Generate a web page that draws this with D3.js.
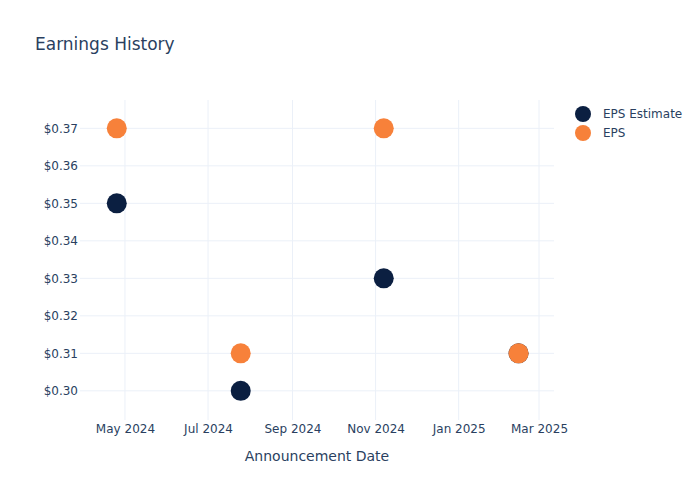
<!DOCTYPE html>
<html>
<head>
<meta charset="utf-8">
<script src="https://cdn.jsdelivr.net/npm/d3@7"></script>
<style>
  body { margin: 0; background: #fff; }
  text { font-family: "DejaVu Sans", Verdana, sans-serif; fill: #2a3f5f; }
</style>
</head>
<body>
<div id="chart"></div>
<script>
var dates = ["2024-04-25", "2024-07-25", "2024-11-07", "2025-02-14"];
var epsEstimate = [0.35, 0.30, 0.33, 0.31];
var epsActual = [0.37, 0.31, 0.37, 0.31];
var yTicks = [0.30, 0.31, 0.32, 0.33, 0.34, 0.35, 0.36, 0.37];
var xTicks = ["2024-05-01", "2024-07-01", "2024-09-01", "2024-11-01", "2025-01-01", "2025-03-01"];
var seriesNames = ["EPS Estimate", "EPS"];
var seriesColors = ["#0b1f41", "#f7813a"];

var width = 700, height = 500;
var margin = { top: 100, right: 146, bottom: 80, left: 80 };

var parse = d3.timeParse("%Y-%m-%d");

var svg = d3.select("#chart")
  .append("svg")
    .attr("width", width)
    .attr("height", height);

var x = d3.scaleTime()
    .domain([parse("2024-03-29"), parse("2025-03-12")])
    .range([margin.left, width - margin.right]);

var y = d3.scaleLinear()
    .domain([0.29222, 0.37755])
    .range([height - margin.bottom, margin.top]);

// grid
svg.append("g")
  .selectAll("line")
  .data(xTicks)
  .enter().append("line")
    .attr("x1", function(d) { return x(parse(d)); })
    .attr("x2", function(d) { return x(parse(d)); })
    .attr("y1", margin.top)
    .attr("y2", height - margin.bottom)
    .attr("stroke", "#ebf0f8");

svg.append("g")
  .selectAll("line")
  .data(yTicks)
  .enter().append("line")
    .attr("x1", margin.left)
    .attr("x2", width - margin.right)
    .attr("y1", function(d) { return y(d); })
    .attr("y2", function(d) { return y(d); })
    .attr("stroke", "#ebf0f8");

// axes (labels only, like plotly)
var xAxis = svg.append("g")
    .attr("transform", "translate(0," + (height - margin.bottom) + ")")
    .call(d3.axisBottom(x)
      .tickValues(xTicks.map(parse))
      .tickFormat(d3.timeFormat("%b %Y"))
      .tickSize(0)
      .tickPadding(4));
xAxis.select(".domain").remove();
xAxis.selectAll("text").style("font-size", "12px").attr("fill", "#2a3f5f");

var yAxis = svg.append("g")
    .attr("transform", "translate(" + margin.left + ",0)")
    .call(d3.axisLeft(y)
      .tickValues(yTicks)
      .tickFormat(function(d) { return "$" + d3.format(".2f")(d); })
      .tickSize(0)
      .tickPadding(2));
yAxis.select(".domain").remove();
yAxis.selectAll("text").style("font-size", "12px").attr("fill", "#2a3f5f");

// markers
var series = [epsEstimate, epsActual];
series.forEach(function(vals, i) {
  svg.append("g")
    .selectAll("circle")
    .data(vals)
    .enter().append("circle")
      .attr("cx", function(d, j) { return x(parse(dates[j])); })
      .attr("cy", function(d) { return y(d); })
      .attr("r", 10)
      .attr("fill", seriesColors[i]);
});

// title
svg.append("text")
    .attr("x", 35)
    .attr("y", 50)
    .style("font-size", "17px")
    .text("Earnings History");

svg.append("text")
    .attr("x", (margin.left + width - margin.right) / 2)
    .attr("y", 461)
    .attr("text-anchor", "middle")
    .style("font-size", "14px")
    .text("Announcement Date");

// legend
var legend = svg.append("g")
  .selectAll("g")
  .data(seriesNames)
  .enter().append("g")
    .attr("transform", function(d, i) { return "translate(583," + (114 + i * 19) + ")"; });

legend.append("circle")
    .attr("r", 8)
    .attr("fill", function(d, i) { return seriesColors[i]; });

legend.append("text")
    .attr("x", 20)
    .attr("dy", "0.35em")
    .style("font-size", "12px")
    .text(function(d) { return d; });
</script>
</body>
</html>
